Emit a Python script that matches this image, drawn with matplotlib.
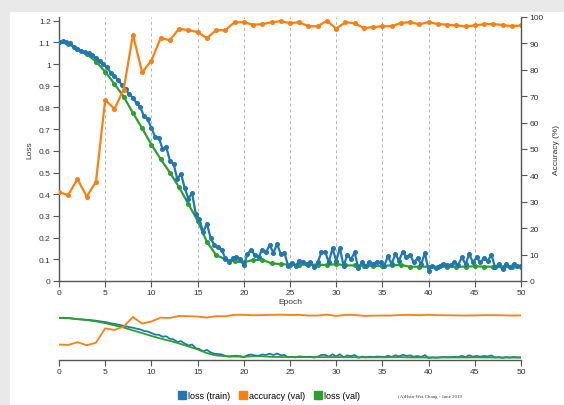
import numpy as np
import matplotlib.pyplot as plt
from matplotlib.patches import Rectangle
from matplotlib.lines import Line2D

plt.rcParams['font.family'] = ['Liberation Sans', 'DejaVu Sans']

# validation values, one per epoch
epochs = np.arange(0, 51)
loss_val = [1.103, 1.093, 1.07, 1.047, 1.011, 0.965, 0.908, 0.85, 0.775, 0.704,
            0.629, 0.562, 0.50, 0.432, 0.355, 0.278, 0.181, 0.12, 0.10, 0.09,
            0.086, 0.097, 0.098, 0.081, 0.078, 0.075, 0.076, 0.075, 0.075, 0.074,
            0.078, 0.072, 0.072, 0.07, 0.07, 0.07, 0.072, 0.074, 0.066, 0.066,
            0.066, 0.066, 0.066, 0.066, 0.066, 0.068, 0.066, 0.066, 0.064, 0.064,
            0.063]
acc_val = [33.6, 32.6, 38.6, 32.0, 37.6, 68.6, 65.2, 72.5, 93.3, 79.0,
           83.5, 92.0, 91.2, 95.6, 95.0, 94.3, 92.0, 95.0, 95.0, 98.0,
           98.0, 97.1, 97.3, 98.0, 98.4, 97.7, 98.0, 96.5, 96.5, 98.6,
           95.6, 98.0, 97.7, 95.8, 96.2, 96.5, 96.5, 97.7, 98.1, 97.2,
           98.1, 97.3, 97.1, 96.8, 96.5, 96.8, 97.3, 97.3, 97.0, 96.5,
           96.8]

# training loss, logged every 0.4 epoch
train_epochs = np.arange(0, 126) * 0.4
loss_train = [1.103, 1.105, 1.10, 1.095, 1.08, 1.068, 1.062, 1.055, 1.05, 1.04,
              1.028, 1.013, 1.0, 0.985, 0.96, 0.945, 0.925, 0.905, 0.885, 0.86,
              0.845, 0.82, 0.80, 0.76, 0.745, 0.705, 0.665, 0.66, 0.61, 0.62,
              0.555, 0.54, 0.47, 0.495, 0.43, 0.38, 0.405, 0.31, 0.285, 0.225,
              0.265, 0.20, 0.165, 0.155, 0.145, 0.105, 0.088, 0.105, 0.112, 0.10,
              0.072, 0.125, 0.144, 0.118, 0.11, 0.144, 0.132, 0.166, 0.129, 0.171,
              0.124, 0.129, 0.07, 0.083, 0.068, 0.094, 0.086, 0.078, 0.086, 0.063,
              0.086, 0.132, 0.135, 0.086, 0.15, 0.094, 0.15, 0.07, 0.12, 0.10,
              0.132, 0.058, 0.089, 0.07, 0.086, 0.078, 0.089, 0.086, 0.07, 0.114,
              0.078, 0.124, 0.094, 0.135, 0.109, 0.12, 0.086, 0.105, 0.078, 0.129,
              0.048, 0.07, 0.058, 0.07, 0.078, 0.074, 0.074, 0.086, 0.074, 0.109,
              0.078, 0.124, 0.086, 0.109, 0.086, 0.105, 0.094, 0.12, 0.063, 0.078,
              0.055, 0.078, 0.063, 0.078, 0.07, 0.07]

labels = ['loss (train)', 'accuracy (val)', 'loss (val)']
c_train, c_acc, c_val = '#1f77b4', '#ff7f0e', '#2ca02c'
W, H = 564, 406


def style_axis(a):
    a.tick_params(labelsize=6, colors='#555555', labelcolor='#333333',
                  length=4, width=0.8, pad=2)
    for s in a.spines.values():
        s.set_color('#555555')
        s.set_linewidth(1.0)


fig = plt.figure(figsize=(W / 100, H / 100), dpi=100)
fig.patch.set_facecolor('#e9e9e9')
fig.add_artist(Rectangle((10 / W, 0), 1, (H - 13) / H, transform=fig.transFigure,
                         facecolor='white', edgecolor='none', zorder=0))

# main chart
ax = fig.add_axes([59 / W, (H - 282) / H, 462 / W, 264 / H])
ax.set_facecolor('white')
for x in range(5, 51, 5):
    ax.axvline(x, color='#b5b5b5', lw=0.7, ls=(0, (3, 3)), zorder=0)
ax.plot(train_epochs, loss_train, color=c_train, lw=1.6, marker='o', ms=2.6, zorder=3)
ax.plot(epochs, loss_val, color=c_val, lw=1.6, marker='o', ms=2.6, zorder=2)
ax.set_xlim(0, 50)
ax.set_ylim(0, 1.217)
ax.set_xticks(range(0, 51, 5))
yt = np.round(np.arange(0, 1.21, 0.1), 1)
ax.set_yticks(yt)
ax.set_yticklabels([f'{v:g}' for v in yt])
ax.spines['top'].set_visible(False)
ax.spines['right'].set_visible(False)
style_axis(ax)

ax2 = ax.twinx()
ax2.plot(epochs, acc_val, color=c_acc, lw=1.6, marker='o', ms=2.6)
ax2.set_ylim(0, 100)
ax2.set_yticks(range(0, 101, 10))
for s in ['top', 'left', 'bottom']:
    ax2.spines[s].set_visible(False)
style_axis(ax2)

fig.text(30 / W, (H - 150) / H, 'Loss', rotation=90, ha='center', va='center',
         fontsize=6, color='#333333')
fig.text(556 / W, (H - 150) / H, 'Accuracy (%)', rotation=90, ha='center',
         va='center', fontsize=6, color='#333333')
fig.text(290 / W, (H - 303) / H, 'Epoch', ha='center', va='center',
         fontsize=6, color='#333333')

# overview chart
ctx = fig.add_axes([59 / W, (H - 361) / H, 462 / W, 47 / H])
ctx.plot(train_epochs, loss_train, color=c_train, lw=1.3)
ctx.plot(epochs, loss_val, color=c_val, lw=1.3)
ctx.set_xlim(0, 50)
ctx.set_ylim(0, 1.23)
ctx.set_xticks(range(0, 51, 5))
ctx.set_yticks([])
for s in ['top', 'left', 'right']:
    ctx.spines[s].set_visible(False)
style_axis(ctx)
ctx2 = ctx.twinx()
ctx2.plot(epochs, acc_val, color=c_acc, lw=1.3)
ctx2.set_ylim(0, 102)
ctx2.set_yticks([])
ctx2.axis('off')

handles = [Line2D([], [], ls='', marker='s', ms=5.5, color=c) for c in (c_train, c_acc, c_val)]
fig.legend(handles, labels, loc='center', bbox_to_anchor=(269 / W, 9 / H), ncol=3,
           frameon=False, fontsize=6.5, handletextpad=0.3, columnspacing=1.0,
           handlelength=0.8, borderpad=0)
fig.text(398 / W, 9 / H, '(A)Hsin-Wei Chang - June 2019', family='Liberation Serif',
         fontsize=3.5, va='center', color='#333333')

fig.savefig('out.png', dpi=100, facecolor=fig.get_facecolor())
